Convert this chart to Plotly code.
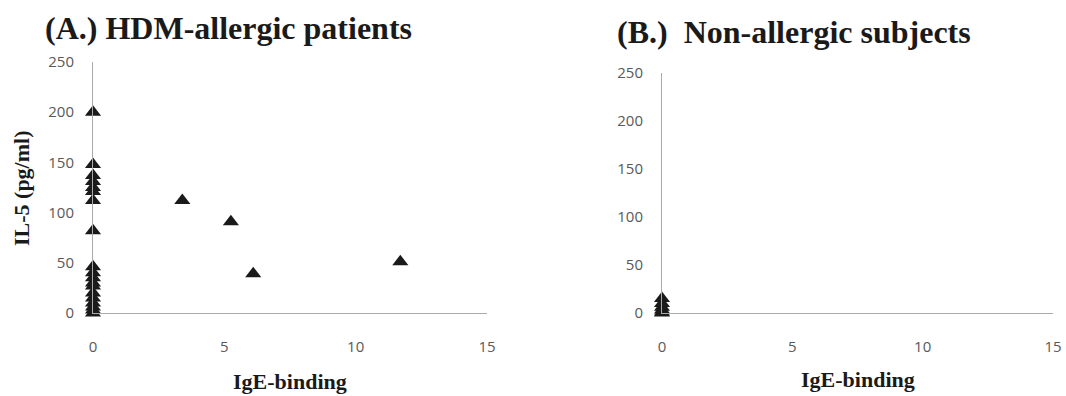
import plotly.graph_objects as go

W, H = 1066, 396

# Panel A: HDM-allergic patients
a_x = [0]*19 + [3.4, 5.25, 6.1, 11.7]
a_y = [200, 148, 137, 131, 125, 121, 112, 82, 46, 40, 35, 30, 27, 20, 15, 10, 6, 3, 0,
       112, 91, 39, 51]
# Panel B: Non-allergic subjects
b_x = [0, 0, 0, 0, 0, 0]
b_y = [15, 10, 6, 3, 1, 0]

x_ticks = [0, 5, 10, 15]
y_ticks = [0, 50, 100, 150, 200, 250]

def px(x):
    return x / W

def py(y):
    return 1 - y / H

fig = go.Figure()
marker = dict(symbol="triangle-up", size=14, color="#1a1a1a")
fig.add_trace(go.Scatter(x=a_x, y=a_y, mode="markers", marker=marker,
                         xaxis="x", yaxis="y", cliponaxis=False, showlegend=False))
fig.add_trace(go.Scatter(x=b_x, y=b_y, mode="markers", marker=marker,
                         xaxis="x2", yaxis="y2", cliponaxis=False, showlegend=False))

tickfont = dict(family="Open Sans, Liberation Sans, sans-serif", size=15, color="#595959")
axcol = "#aaaaaa"

xcommon = dict(range=[0, 15], tickvals=x_ticks, showgrid=False, zeroline=False,
               showline=True, linecolor=axcol, linewidth=1, ticks="outside",
               ticklen=20, tickcolor="rgba(0,0,0,0)", tickfont=tickfont, fixedrange=True,
               automargin=False)
ycommon = dict(range=[0, 250], tickvals=y_ticks, showgrid=False, zeroline=False,
               showline=True, linecolor=axcol, linewidth=1, ticks="outside",
               ticklen=15, tickcolor="rgba(0,0,0,0)", tickfont=tickfont, fixedrange=True,
               automargin=False)

fig.update_layout(
    width=W, height=H,
    margin=dict(l=0, r=0, t=0, b=0, autoexpand=False),
    paper_bgcolor="white", plot_bgcolor="white",
    xaxis=dict(domain=[px(93), px(487)], anchor="y", **xcommon),
    yaxis=dict(domain=[py(313), py(62)], anchor="x", **ycommon),
    xaxis2=dict(domain=[px(662), px(1053)], anchor="y2", **xcommon),
    yaxis2=dict(domain=[py(313), py(73)], anchor="x2", **ycommon),
)

titlefont = dict(family="Liberation Serif, Times New Roman, serif", size=32, color="#1a1a1a")
axtitlefont = dict(family="Liberation Serif, Times New Roman, serif", size=22, color="#1a1a1a")

ann = [
    dict(text="<b>(A.) HDM-allergic patients</b>", x=px(43), y=py(28), xanchor="left",
         yanchor="middle", font=titlefont),
    dict(text="<b>(B.)  Non-allergic subjects</b>", x=px(615), y=py(32), xanchor="left",
         yanchor="middle", font=titlefont),
    dict(text="<b>IgE-binding</b>", x=px(290), y=py(381), xanchor="center",
         yanchor="middle", font=axtitlefont),
    dict(text="<b>IgE-binding</b>", x=px(858), y=py(379), xanchor="center",
         yanchor="middle", font=axtitlefont),
    dict(text="<b>IL-5 (pg/ml)</b>", x=px(22), y=py(188), xanchor="center",
         yanchor="middle", textangle=-90, font=axtitlefont),
]
for a in ann:
    a.update(xref="paper", yref="paper", showarrow=False)
fig.update_layout(annotations=ann)

fig.write_html(
    "out.html",
    config={"displayModeBar": False, "staticPlot": True},
    post_script="document.body.style.margin='0';document.body.style.overflow='hidden';",
)
